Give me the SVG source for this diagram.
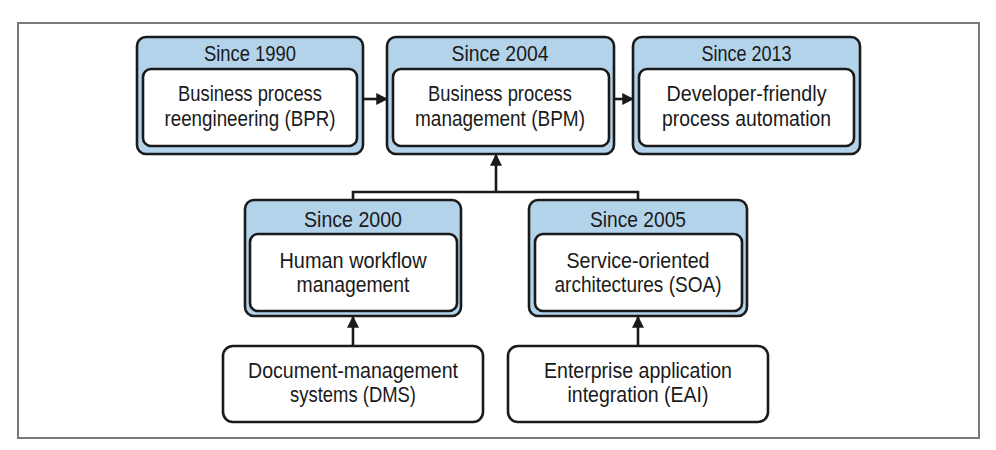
<svg xmlns="http://www.w3.org/2000/svg" width="996" height="450" viewBox="0 0 996 450">
<defs>
<style>
.frame{fill:#fff;stroke:#7a7a7a;stroke-width:2}
.outer{fill:#b3d3ea;stroke:#1a1a1a;stroke-width:2.6}
.inner{fill:#fff;stroke:#1a1a1a;stroke-width:2.6}
.plain{fill:#fff;stroke:#1a1a1a;stroke-width:2.6}
text{font-family:"Liberation Sans",Arial,sans-serif;font-size:22.5px;fill:#1a1a1a;text-anchor:middle}
.conn{fill:none;stroke:#1a1a1a;stroke-width:2.6}
</style>
<marker id="ah" viewBox="0 0 10 10" refX="9" refY="5" markerWidth="4.6" markerHeight="4.6" orient="auto" markerUnits="strokeWidth">
<path d="M0,0 L10,5 L0,10 z" fill="#1a1a1a"/>
</marker>
</defs>
<rect width="996" height="450" fill="#fff"/>
<rect class="frame" x="18" y="23" width="961" height="415"/>

<g id="bpr">
<rect class="outer" x="137" y="37" width="226" height="117" rx="9"/>
<rect class="inner" x="143" y="69" width="214" height="77" rx="8"/>
<text x="250" y="61" textLength="92" lengthAdjust="spacingAndGlyphs">Since 1990</text>
<text x="250" y="101" textLength="144" lengthAdjust="spacingAndGlyphs">Business process</text>
<text x="250" y="126" textLength="171" lengthAdjust="spacingAndGlyphs">reengineering (BPR)</text>
</g>

<g id="bpm">
<rect class="outer" x="387" y="37" width="227" height="117" rx="9"/>
<rect class="inner" x="393" y="69" width="216" height="77" rx="8"/>
<text x="500" y="61" textLength="97" lengthAdjust="spacingAndGlyphs">Since 2004</text>
<text x="500" y="101" textLength="144" lengthAdjust="spacingAndGlyphs">Business process</text>
<text x="500" y="126" textLength="170" lengthAdjust="spacingAndGlyphs">management (BPM)</text>
</g>

<g id="dev">
<rect class="outer" x="633" y="37" width="227" height="117" rx="9"/>
<rect class="inner" x="639" y="69" width="215" height="77" rx="8"/>
<text x="746.5" y="61" textLength="90" lengthAdjust="spacingAndGlyphs">Since 2013</text>
<text x="746.5" y="101" textLength="160" lengthAdjust="spacingAndGlyphs">Developer-friendly</text>
<text x="746.5" y="126" textLength="169" lengthAdjust="spacingAndGlyphs">process automation</text>
</g>

<g id="hwm">
<rect class="outer" x="245" y="200" width="216" height="116" rx="9"/>
<rect class="inner" x="250" y="234" width="207" height="77" rx="8"/>
<text x="353" y="227" textLength="98" lengthAdjust="spacingAndGlyphs">Since 2000</text>
<text x="353" y="268" textLength="147" lengthAdjust="spacingAndGlyphs">Human workflow</text>
<text x="353" y="292" textLength="113" lengthAdjust="spacingAndGlyphs">management</text>
</g>

<g id="soa">
<rect class="outer" x="529" y="200" width="218" height="116" rx="9"/>
<rect class="inner" x="535" y="234" width="207" height="77" rx="8"/>
<text x="638" y="227" textLength="96" lengthAdjust="spacingAndGlyphs">Since 2005</text>
<text x="638" y="268" textLength="143" lengthAdjust="spacingAndGlyphs">Service-oriented</text>
<text x="638" y="292" textLength="167" lengthAdjust="spacingAndGlyphs">architectures (SOA)</text>
</g>

<g id="dms">
<rect class="plain" x="223" y="346" width="260" height="76" rx="10"/>
<text x="353" y="378" textLength="210" lengthAdjust="spacingAndGlyphs">Document-management</text>
<text x="353" y="402" textLength="126" lengthAdjust="spacingAndGlyphs">systems (DMS)</text>
</g>

<g id="eai">
<rect class="plain" x="508" y="346" width="260" height="76" rx="10"/>
<text x="638" y="378" textLength="188" lengthAdjust="spacingAndGlyphs">Enterprise application</text>
<text x="638" y="402" textLength="141" lengthAdjust="spacingAndGlyphs">integration (EAI)</text>
</g>

<g id="connectors">
<line class="conn" x1="364" y1="99" x2="387" y2="99" marker-end="url(#ah)"/>
<line class="conn" x1="615" y1="99" x2="633" y2="99" marker-end="url(#ah)"/>
<polyline class="conn" points="353,200 353,192 638,192 638,200"/>
<line class="conn" x1="496" y1="192" x2="496" y2="155" marker-end="url(#ah)"/>
<line class="conn" x1="353" y1="346" x2="353" y2="317" marker-end="url(#ah)"/>
<line class="conn" x1="638" y1="346" x2="638" y2="317" marker-end="url(#ah)"/>
</g>
</svg>
